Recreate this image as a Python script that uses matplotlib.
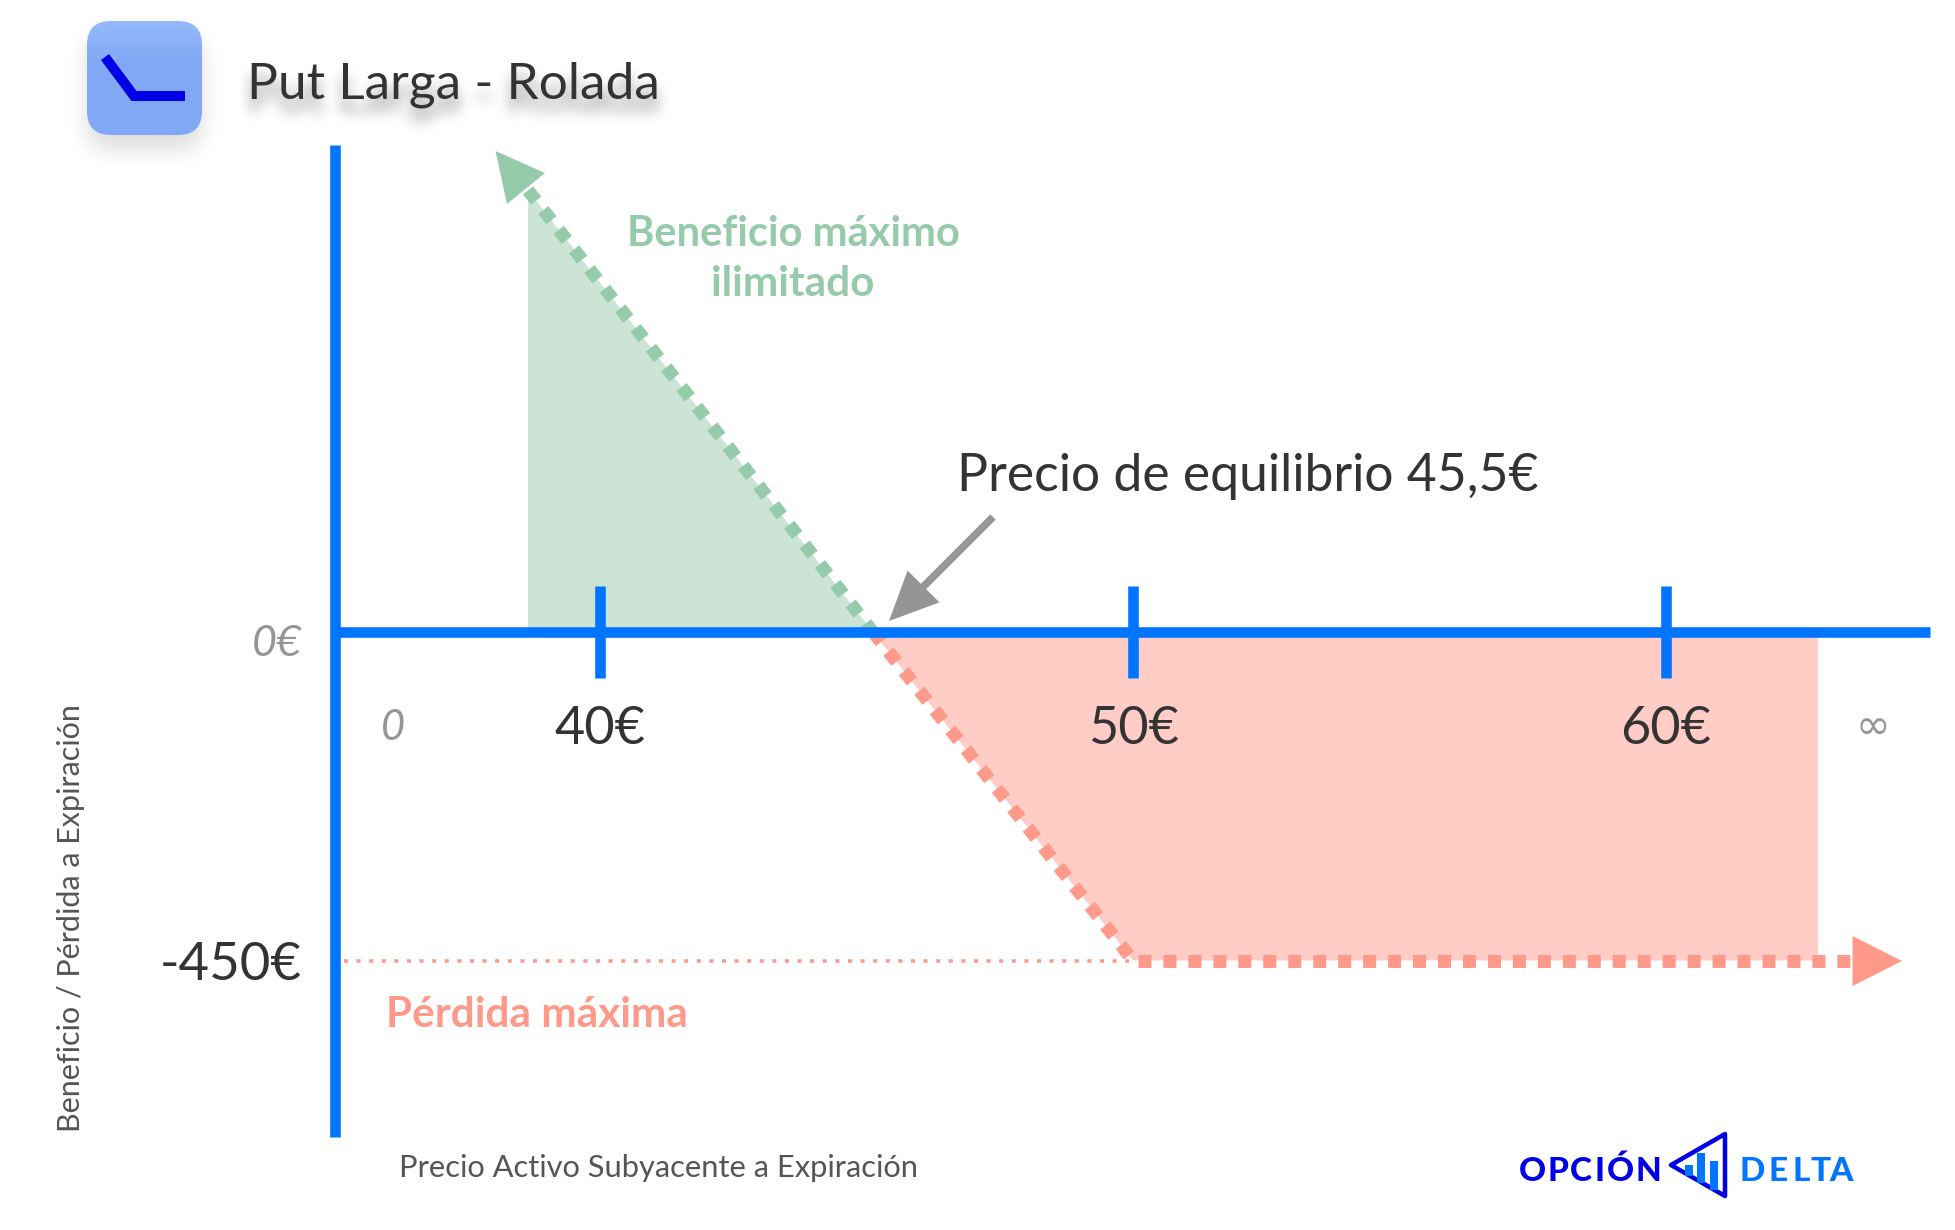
"""Put Larga - Rolada payoff diagram."""

import matplotlib

matplotlib.use("Agg")
import matplotlib.pyplot as plt
import numpy as np
from matplotlib.patches import FancyBboxPatch, Polygon
from matplotlib.transforms import ScaledTranslation

W, H = 1955, 1230

# values
strikes = [40, 50, 60]
strike_labels = ["40€", "50€", "60€"]
payoff_ticks = [0, -450]
payoff_labels = ["0€", "-450€"]
gain_x = [38.65, 45.12]
gain_y = [605, 0]
loss_x = [45.12, 50]
loss_y = [0, -450]
flat_x = [50.1, 63.47]
flat_y = [-450, -450]
fill_end = 62.85
cap_x = [35.2, 50]
cap_y = [-450, -450]

TITLE = "Put Larga - Rolada"
brand_letters = list("OPCIÓN") + list("DELTA")
brand_x = [1532, 1557.5, 1581, 1600, 1620, 1648.5, 1752.5, 1778, 1801, 1821, 1841]

BLUE = "#0075ff"
NAVY = "#0000e6"
GREEN = "#95cbab"
GREEN_FILL = "#cce4d5"
RED = "#ff998a"
RED_FILL = "#ffccc6"
GRAY = "#959595"
DARK = "#333333"

PX_PT = 0.72  # pixels to points at dpi 100
AXIS_W = 10.6 * PX_PT

plt.rcParams["font.family"] = ["Lato", "DejaVu Sans"]


def pixel_axes(figure, zorder=1):
    a = figure.add_axes([0, 0, 1, 1], zorder=zorder)
    a.axis("off")
    a.set_xlim(0, W)
    a.set_ylim(H, 0)
    return a


def box_blur(img, radius):
    kernel = np.ones(2 * radius + 1) / (2 * radius + 1)
    for _ in range(3):
        img = np.apply_along_axis(lambda r: np.convolve(r, kernel, mode="same"), 0, img)
        img = np.apply_along_axis(lambda r: np.convolve(r, kernel, mode="same"), 1, img)
    return img


def soft_shadow(draw, radius, dy, strength):
    """Render draw(axes) in black offscreen, blur it and return an alpha map of the header band."""
    tmp = plt.figure(figsize=(W / 100, H / 100), dpi=100, facecolor="white")
    draw(pixel_axes(tmp))
    tmp.canvas.draw()
    buf = np.asarray(tmp.canvas.buffer_rgba())[:260, :800, 0].astype(float)
    plt.close(tmp)
    blurred = box_blur(1 - buf / 255, radius)
    return np.roll(blurred, dy, axis=0) * strength


def draw_title_shape(a):
    a.text(247, 85, TITLE, fontsize=37, color="black", va="center", ha="left")


def draw_box_shape(a):
    a.add_patch(FancyBboxPatch((87, 21), 115, 114, boxstyle="round,pad=0,rounding_size=24",
                               fc="black", ec="none"))


fig = plt.figure(figsize=(W / 100, H / 100), dpi=100, facecolor="white")

# pixel layer for the header, logo and callouts
deco = fig.add_axes([0, 0, 1, 1], zorder=1)
deco.axis("off")

# blurred drop shadows of the logo and title
alpha_map = np.clip(soft_shadow(draw_title_shape, 6, 13, 0.42)
                    + soft_shadow(draw_box_shape, 10, 14, 0.14), 0, 1)
rgba = np.zeros(alpha_map.shape + (4,))
rgba[..., 3] = alpha_map
deco.imshow(rgba, extent=(0, 800, 260, 0), aspect="auto", zorder=0, interpolation="nearest")

# logo box
box = FancyBboxPatch((87, 21), 115, 114, boxstyle="round,pad=0,rounding_size=24",
                     fc="none", ec="none")
deco.add_patch(box)
grad = np.zeros((60, 1, 3))
top, low = np.array([0x95, 0xb9, 0xfc]) / 255, np.array([0x81, 0xa8, 0xf4]) / 255
for i in range(60):
    grad[i, 0] = top + (low - top) * min(i / 22, 1)
im = deco.imshow(grad, extent=(87, 202, 135, 21), aspect="auto", zorder=1)
im.set_clip_path(box)
deco.plot([105, 134, 185], [57, 96, 96], color=NAVY, lw=10 * PX_PT, solid_joinstyle="miter",
          solid_capstyle="butt", zorder=2)

deco.text(247, 85, TITLE, fontsize=37, color=DARK, va="center", ha="left", zorder=3)

# break-even callout
deco.annotate("", xy=(889, 621), xytext=(993, 517),
              arrowprops=dict(arrowstyle="-|>,head_length=2.6,head_width=1.2", color=GRAY,
                              lw=7.5 * PX_PT, shrinkA=0, shrinkB=0, capstyle="butt",
                              joinstyle="miter"))
deco.text(957, 477, "Precio de equilibrio 45,5€", fontsize=37.2, color=DARK, va="center", ha="left")

# payoff arrow heads
deco.add_patch(Polygon([(495.5, 151), (545, 173), (507, 204)], fc=GREEN, ec="none", zorder=4))
deco.add_patch(Polygon([(1852.5, 936), (1902, 961), (1852.5, 986)], fc=RED, ec="none", zorder=4))

deco.text(793, 234, "Beneficio máximo", fontsize=30, fontweight="bold", color=GREEN,
          ha="center", va="center")
deco.text(793, 284, "ilimitado", fontsize=30.4, fontweight="bold", color=GREEN,
          ha="center", va="center")
deco.text(386, 1015, "Pérdida máxima", fontsize=30.4, fontweight="bold", color=RED,
          ha="left", va="center")
deco.text(393, 728, "0", fontsize=30, style="italic", color=GRAY, ha="center", va="center")
deco.text(1873, 727, "∞", fontsize=30, style="italic", color=GRAY, ha="center", va="center",
          family=["DejaVu Sans"])
deco.text(71, 918, "Beneficio / Pérdida a Expiración", fontsize=22, color="#555555",
          rotation=90, ha="center", va="center")
deco.text(399, 1168, "Precio Activo Subyacente a Expiración", fontsize=22.2, color="#555555",
          ha="left", va="center")

# brand mark, letters placed one by one for the wide tracking
for i, (letter, bx) in enumerate(zip(brand_letters, brand_x)):
    deco.text(bx, 1181, letter, fontsize=24, fontweight=900, ha="center", va="baseline",
              color=NAVY if i < 6 else BLUE)
deco.add_patch(Polygon([(1671, 1165), (1725, 1134), (1725, 1196)], fc="white", ec=NAVY,
                       lw=4.5 * PX_PT, joinstyle="round", zorder=3))
for bx, ytop, ybot in [(1689, 1165, 1176), (1701, 1153, 1183), (1714, 1161, 1190)]:
    deco.plot([bx, bx], [ytop, ybot], color=BLUE, lw=8 * PX_PT, solid_capstyle="butt", zorder=4)

deco.set_xlim(0, W)
deco.set_ylim(H, 0)

# payoff chart, scaled so that 40 / 50 / 60 and 0 / -450 land where the reference has them
ax = fig.add_axes([0, 0, 1, 1], zorder=2)
ax.patch.set_visible(False)
x_per_px = 10 / 533
y_per_px = 450 / 328.5
ax.set_xlim(40 - 600 * x_per_px, 40 + (W - 600) * x_per_px)
ax.set_ylim(-(H - 632) * y_per_px, 632 * y_per_px)

ax.fill([gain_x[0], gain_x[0], gain_x[1]], [0, gain_y[0], gain_y[1]], color=GREEN_FILL, lw=0)
ax.fill([loss_x[0], loss_x[1], fill_end, fill_end], [0, loss_y[1], loss_y[1], 0],
        color=RED_FILL, lw=0)

dash = (0, (1, 0.92))
ax.plot(gain_x, gain_y, color=GREEN, lw=13 * PX_PT, linestyle=dash, dash_capstyle="butt")
ax.plot(loss_x, loss_y, color=RED, lw=13 * PX_PT, linestyle=dash, dash_capstyle="butt")
ax.plot(flat_x, flat_y, color=RED, lw=13 * PX_PT, linestyle=dash, dash_capstyle="butt")
ax.plot(cap_x, cap_y, color=RED, lw=3.6 * PX_PT, linestyle=(0, (1.1, 2.4)), dash_capstyle="butt")

for side in ("top", "right"):
    ax.spines[side].set_visible(False)
ax.spines["bottom"].set_position(("data", 0))
ax.spines["left"].set_position(("data", 40 - (600 - 335) * x_per_px))
ax.spines["bottom"].set_bounds(40 - (600 - 335) * x_per_px, 40 + 1330 * x_per_px)
ax.spines["left"].set_bounds(-(1137 - 632) * y_per_px, (632 - 145) * y_per_px)
for side in ("bottom", "left"):
    ax.spines[side].set_color(BLUE)
    ax.spines[side].set_linewidth(AXIS_W)
    ax.spines[side].set_capstyle("butt")

ax.set_xticks(strikes, strike_labels)
ax.tick_params(axis="x", direction="inout", length=92 * PX_PT, width=AXIS_W, color=BLUE,
               labelsize=37.5, labelcolor=DARK, pad=20)
ax.set_yticks(payoff_ticks, payoff_labels)
ax.tick_params(axis="y", length=0, pad=33 * PX_PT, labelsize=38, labelcolor=DARK)
zero_label = ax.get_yticklabels()[0]
zero_label.set_fontsize(31)
zero_label.set_style("italic")
zero_label.set_color(GRAY)
zero_label.set_transform(zero_label.get_transform()
                         + ScaledTranslation(0, -9 / 100, fig.dpi_scale_trans))

fig.savefig("out.png", dpi=100)
